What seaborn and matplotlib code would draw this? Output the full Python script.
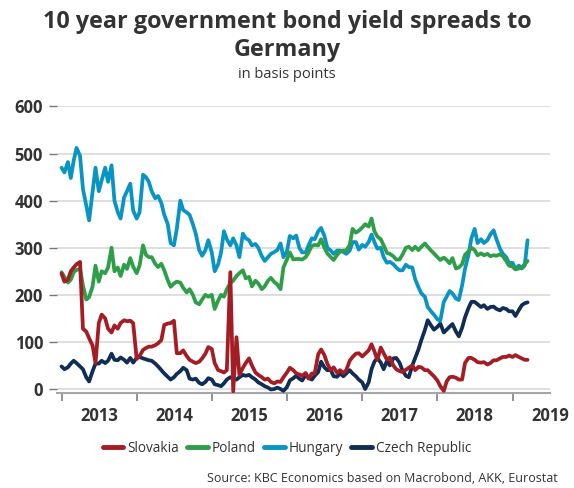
import numpy as np
import pandas as pd
import matplotlib
matplotlib.use("Agg")
import matplotlib.pyplot as plt
import matplotlib.dates as mdates
from matplotlib.lines import Line2D
import seaborn as sns

# ---- data (basis points, semi-monthly readings) ----
dates = pd.date_range("2013-01-01", periods=150, freq="SMS")

hungary = [470, 460, 482, 448, 485, 512, 495, 425, 390, 358,
           420, 470, 420, 443, 470, 440, 475, 400, 376, 362,
           407, 420, 436, 379, 362, 375, 455, 450, 440, 420,
           405, 410, 395, 370, 350, 310, 305, 340, 400, 380,
           375, 370, 350, 330, 295, 283, 295, 316, 290, 250,
           265, 290, 335, 318, 305, 320, 305, 280, 330, 320,
           316, 305, 308, 300, 282, 272, 280, 287, 291, 295,
           309, 280, 292, 325, 320, 326, 300, 290, 290, 305,
           320, 318, 335, 342, 325, 300, 294, 287, 294, 294,
           291, 287, 294, 312, 312, 296, 306, 302, 312, 328,
           312, 298, 300, 280, 268, 270, 265, 258, 252, 252,
           264, 259, 258, 233, 216, 203, 196, 174, 165, 158,
           148, 145, 185, 196, 208, 203, 192, 189, 220, 255,
           285, 320, 340, 310, 318, 310, 316, 328, 337, 318,
           298, 287, 280, 267, 268, 255, 262, 256, 262, 316]

poland = [248, 238, 226, 232, 248, 253, 255, 220, 190, 195,
          218, 262, 228, 250, 246, 258, 300, 250, 258, 240,
          264, 255, 278, 260, 246, 262, 305, 285, 280, 280,
          266, 259, 266, 252, 231, 217, 224, 228, 226, 215,
          205, 212, 200, 184, 180, 190, 200, 196, 200, 170,
          188, 200, 196, 212, 225, 230, 240, 246, 252, 235,
          238, 218, 230, 224, 212, 218, 230, 236, 227, 222,
          212, 258, 275, 290, 275, 276, 276, 275, 280, 290,
          304, 306, 305, 318, 300, 288, 280, 274, 285, 292,
          294, 294, 306, 340, 332, 336, 343, 350, 345, 362,
          335, 324, 318, 305, 289, 287, 282, 275, 275, 285,
          300, 302, 295, 302, 295, 302, 309, 302, 294, 288,
          280, 274, 279, 274, 267, 278, 256, 258, 265, 285,
          292, 300, 295, 284, 288, 284, 287, 282, 284, 283,
          286, 282, 272, 262, 260, 254, 256, 258, 265, 272]

slovakia = [245, 228, 232, 250, 258, 265, 270, 128, 122, 108,
            92, 55, 140, 158, 150, 128, 120, 135, 128, 140,
            146, 144, 145, 140, 64, 70, 83, 87, 90, 90,
            93, 97, 104, 136, 139, 140, 145, 76, 76, 82,
            70, 62, 58, 55, 58, 65, 75, 89, 85, 55,
            40, 38, 35, 40, 248, -5, 110, 30, 45, 55,
            65, 50, 35, 30, 25, 20, 22, 15, 12, 16,
            15, 25, 35, 45, 40, 33, 31, 28, 34, 22,
            33, 33, 74, 84, 72, 54, 40, 46, 34, 40,
            34, 40, 60, 68, 75, 76, 69, 75, 82, 95,
            80, 62, 88, 76, 62, 67, 50, 42, 38, 36,
            41, 45, 50, 40, 47, 46, 40, 40, 33, 27,
            18, 6, -4, 16, 25, 26, 24, 20, 20, 55,
            66, 66, 62, 57, 56, 57, 52, 55, 61, 61,
            65, 68, 68, 71, 68, 72, 68, 65, 62, 62]

czech = [48, 42, 46, 54, 60, 55, 48, 42, 25, 16,
         38, 54, 54, 60, 55, 60, 75, 62, 61, 67,
         62, 56, 66, 56, 66, 68, 65, 63, 61, 60,
         54, 48, 40, 33, 26, 20, 25, 32, 38, 45,
         40, 22, 20, 22, 13, 10, 15, 23, 20, 10,
         8, 6, 12, 20, 25, 22, 20, 25, 30, 28,
         30, 25, 20, 14, 10, 6, 3, -1, 0, 3,
         0, -4, 4, 18, 23, 28, 22, 18, 30, 24,
         20, 28, 36, 58, 46, 40, 40, 27, 26, 33,
         27, 33, 40, 33, 27, 20, 14, 0, 14, 42,
         58, 66, 56, 42, 60, 50, 65, 66, 56, 40,
         28, 25, 50, 66, 84, 104, 125, 146, 135, 126,
         132, 139, 120, 126, 132, 138, 122, 112, 130, 152,
         172, 185, 185, 180, 174, 178, 170, 174, 175, 170,
         167, 172, 170, 165, 165, 155, 168, 178, 182, 184]

countries = ["Slovakia", "Poland", "Hungary", "Czech Republic"]
colors = {"Slovakia": "#A51D24", "Poland": "#2E9E48",
          "Hungary": "#0A94C4", "Czech Republic": "#0F2D55"}
year_labels = ["2013", "2014", "2015", "2016", "2017", "2018", "2019"]
y_ticks = [0, 100, 200, 300, 400, 500, 600]

series = {"Slovakia": slovakia, "Poland": poland,
          "Hungary": hungary, "Czech Republic": czech}
df = pd.concat([pd.DataFrame({"date": dates, "value": v, "country": c})
                for c, v in series.items()], ignore_index=True)

# ---- figure ----
sns.set_theme(style="white")
plt.rcParams["font.family"] = ["Open Sans", "DejaVu Sans"]
text_col = "#333333"

fig = plt.figure(figsize=(5.74, 4.88), dpi=100)
ax = fig.add_axes([57 / 574, 95 / 488, 493 / 574, 287 / 488])

draw_order = ["Czech Republic", "Hungary", "Poland", "Slovakia"]
sns.lineplot(data=df, x="date", y="value", hue="country",
             hue_order=draw_order, palette=colors, estimator=None,
             linewidth=2.7, ax=ax, legend=False, zorder=3)

ax.set_ylim(-8.5, 601)
ax.set_xlim(pd.Timestamp("2012-12-10"), pd.Timestamp("2019-04-27"))
ax.set_yticks(y_ticks)
ax.set_yticklabels([str(t) for t in y_ticks], fontsize=12,
                   fontweight="bold", color=text_col)
ax.yaxis.grid(True, color="#d9d9d9", linewidth=1.2, zorder=0)
ax.xaxis.grid(False)
ax.tick_params(axis="y", length=6, width=1, color="#777777", pad=4, left=True)

ax.xaxis.set_major_locator(mdates.YearLocator())
ax.xaxis.set_major_formatter(plt.NullFormatter())
minor_pos = [pd.Timestamp(f"{y}-07-02") for y in year_labels]
ax.set_xticks(minor_pos, minor=True)
ax.set_xticklabels(year_labels, minor=True, fontsize=12,
                   fontweight="bold", color=text_col)
ax.tick_params(axis="x", which="major", length=6, width=1.3,
               color="#8a8a8a", bottom=True)
ax.tick_params(axis="x", which="minor", length=0, pad=10)

for s in ["left", "right", "top"]:
    ax.spines[s].set_visible(False)
ax.spines["bottom"].set_color("#a6a6a6")
ax.spines["bottom"].set_linewidth(1.5)
ax.set_xlabel("")
ax.set_ylabel("")

fig.text(0.5, 1 - 22 / 488, "10 year government bond yield spreads to",
         ha="center", va="center", fontsize=16.8, fontweight="bold",
         color=text_col)
fig.text(0.5, 1 - 50 / 488, "Germany", ha="center", va="center",
         fontsize=16.8, fontweight="bold", color=text_col)
fig.text(0.5, 1 - 75 / 488, "in basis points", ha="center", va="center",
         fontsize=10.5, color=text_col)

handles = [Line2D([0], [0], color=colors[c], linewidth=3.5) for c in countries]
leg = fig.legend(handles, countries, loc="center", ncol=4,
                 bbox_to_anchor=(0.5, 1 - 448 / 488), frameon=False,
                 fontsize=9.8, handlelength=1.5, handletextpad=0.3,
                 columnspacing=0.6)
for t in leg.get_texts():
    t.set_color(text_col)

fig.text(558 / 574, 1 - 478 / 488,
         "Source: KBC Economics based on Macrobond, AKK, Eurostat",
         ha="right", va="center", fontsize=9.0, color=text_col)

fig.savefig("out.png", dpi=100)
